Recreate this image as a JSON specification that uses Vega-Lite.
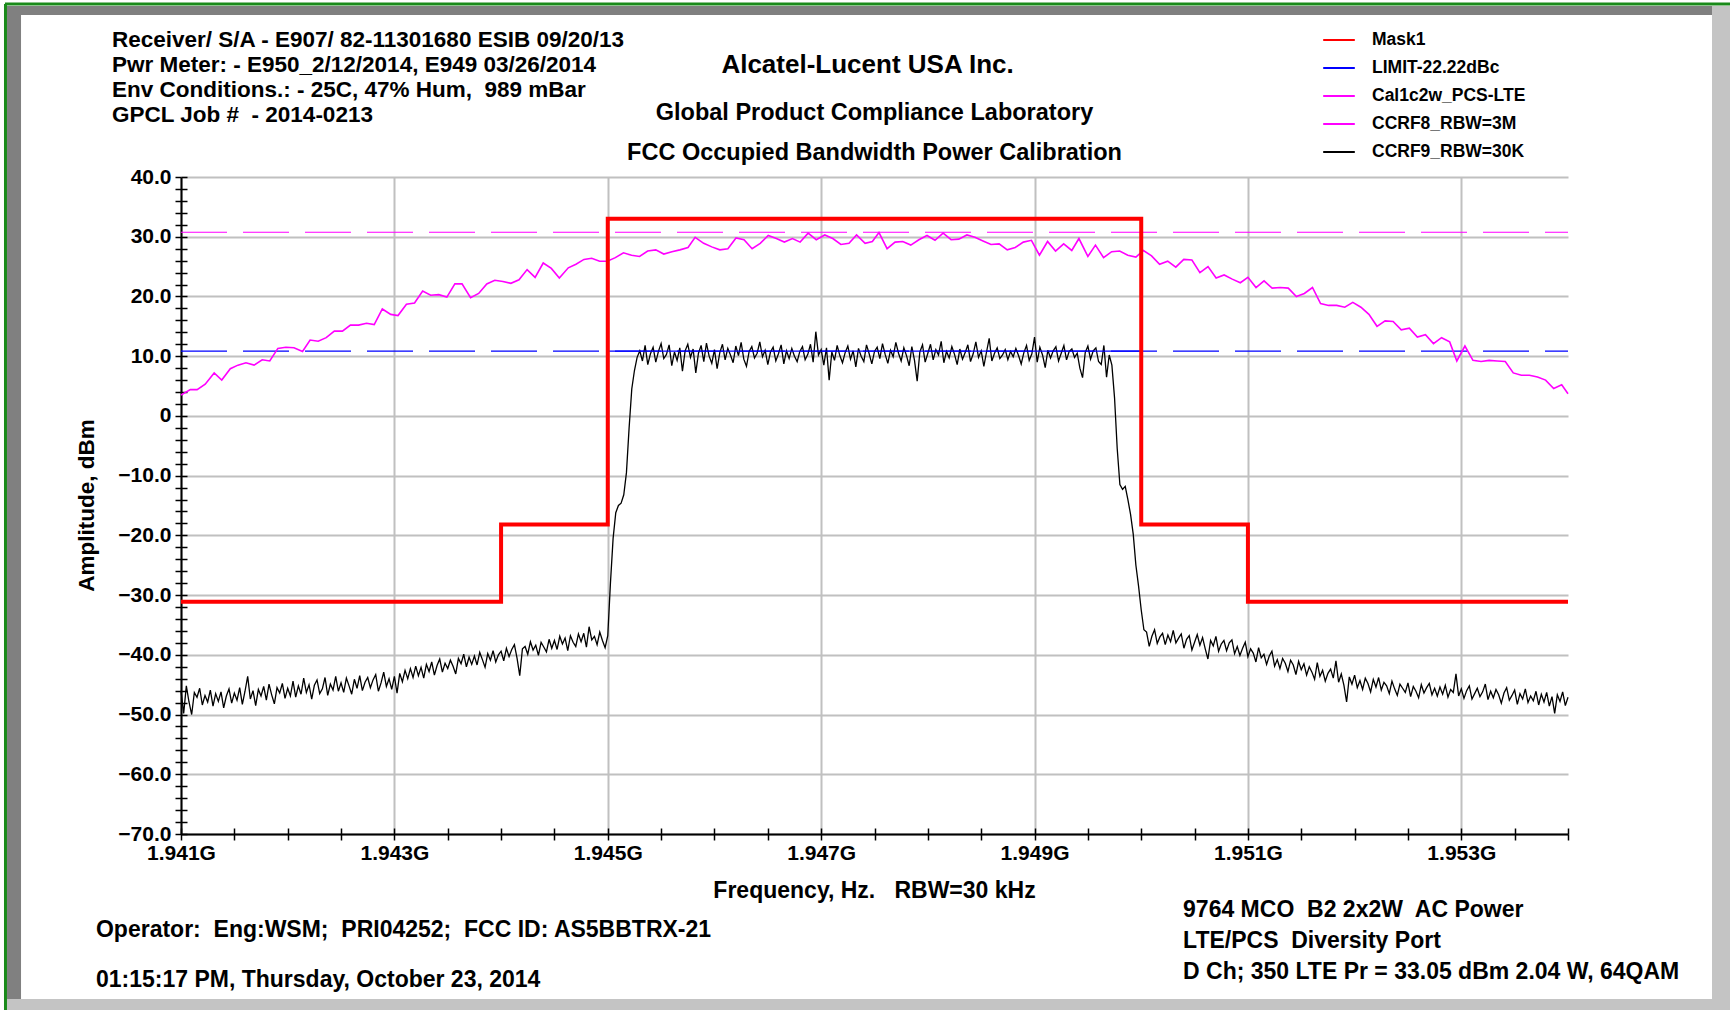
{
"$schema": "https://vega.github.io/schema/vega-lite/v6.json",
"width": 1387, "height": 657,
"autosize": {"type": "none"},
"padding": {"left": 181, "top": 177, "right": 162, "bottom": 176},
"background": "white",
"config": {"view": {"stroke": null}, "font": "Liberation Sans"},
"datasets": {
"mask": [{"f":1941,"v":-31.1},{"f":1944,"v":-18.2},{"f":1945,"v":33.0},{"f":1950,"v":-18.2},{"f":1951,"v":-31.1},{"f":1954,"v":-31.1}],
"lim": [{"f":1945,"v":10.83},{"f":1950,"v":10.83}],
"refb": [{"f":1941,"v":10.83},{"f":1954,"v":10.83}],
"refm": [{"f":1941,"v":30.75},{"f":1954,"v":30.75}],
"m": [{"f":1941.000,"v":3.5},{"f":1941.088,"v":4.4},{"f":1941.151,"v":4.4},{"f":1941.227,"v":5.3},{"f":1941.311,"v":7.2},{"f":1941.382,"v":6.0},{"f":1941.462,"v":7.9},{"f":1941.534,"v":8.5},{"f":1941.609,"v":8.9},{"f":1941.685,"v":8.5},{"f":1941.761,"v":9.4},{"f":1941.832,"v":9.2},{"f":1941.908,"v":11.3},{"f":1941.983,"v":11.5},{"f":1942.059,"v":11.4},{"f":1942.139,"v":10.8},{"f":1942.210,"v":12.7},{"f":1942.286,"v":12.5},{"f":1942.361,"v":13.1},{"f":1942.437,"v":14.2},{"f":1942.513,"v":14.2},{"f":1942.588,"v":15.2},{"f":1942.664,"v":15.2},{"f":1942.739,"v":15.5},{"f":1942.811,"v":15.3},{"f":1942.887,"v":17.9},{"f":1942.966,"v":17.0},{"f":1943.034,"v":16.8},{"f":1943.113,"v":18.7},{"f":1943.189,"v":18.9},{"f":1943.265,"v":20.9},{"f":1943.340,"v":20.2},{"f":1943.416,"v":20.3},{"f":1943.492,"v":19.9},{"f":1943.567,"v":22.1},{"f":1943.634,"v":22.1},{"f":1943.714,"v":19.8},{"f":1943.790,"v":20.5},{"f":1943.866,"v":22.1},{"f":1943.941,"v":22.7},{"f":1944.017,"v":22.5},{"f":1944.092,"v":22.2},{"f":1944.168,"v":22.8},{"f":1944.244,"v":24.5},{"f":1944.319,"v":23.2},{"f":1944.395,"v":25.6},{"f":1944.471,"v":24.7},{"f":1944.546,"v":23.1},{"f":1944.630,"v":24.8},{"f":1944.702,"v":25.4},{"f":1944.777,"v":26.2},{"f":1944.849,"v":26.4},{"f":1944.924,"v":25.9},{"f":1944.996,"v":25.9},{"f":1945.071,"v":26.5},{"f":1945.147,"v":27.3},{"f":1945.223,"v":26.9},{"f":1945.298,"v":26.7},{"f":1945.374,"v":27.6},{"f":1945.450,"v":27.8},{"f":1945.525,"v":27.1},{"f":1945.601,"v":27.5},{"f":1945.676,"v":27.8},{"f":1945.752,"v":28.2},{"f":1945.819,"v":29.9},{"f":1945.899,"v":28.9},{"f":1945.975,"v":28.3},{"f":1946.050,"v":27.8},{"f":1946.126,"v":28.0},{"f":1946.202,"v":29.8},{"f":1946.277,"v":29.5},{"f":1946.353,"v":28.0},{"f":1946.429,"v":28.9},{"f":1946.504,"v":30.2},{"f":1946.580,"v":29.7},{"f":1946.655,"v":29.1},{"f":1946.731,"v":29.7},{"f":1946.803,"v":29.1},{"f":1946.878,"v":30.6},{"f":1946.954,"v":29.5},{"f":1947.034,"v":30.3},{"f":1947.109,"v":29.7},{"f":1947.185,"v":28.7},{"f":1947.261,"v":28.9},{"f":1947.332,"v":30.3},{"f":1947.412,"v":28.9},{"f":1947.480,"v":29.2},{"f":1947.542,"v":30.7},{"f":1947.618,"v":28.0},{"f":1947.693,"v":29.1},{"f":1947.765,"v":29.2},{"f":1947.840,"v":28.6},{"f":1947.916,"v":29.5},{"f":1947.992,"v":30.2},{"f":1948.067,"v":29.4},{"f":1948.143,"v":30.6},{"f":1948.218,"v":29.5},{"f":1948.290,"v":29.6},{"f":1948.366,"v":30.3},{"f":1948.441,"v":29.9},{"f":1948.517,"v":29.3},{"f":1948.592,"v":28.7},{"f":1948.668,"v":28.8},{"f":1948.744,"v":27.8},{"f":1948.819,"v":28.2},{"f":1948.895,"v":29.1},{"f":1948.971,"v":29.4},{"f":1949.046,"v":26.9},{"f":1949.122,"v":29.2},{"f":1949.197,"v":27.6},{"f":1949.273,"v":28.8},{"f":1949.349,"v":27.7},{"f":1949.416,"v":29.7},{"f":1949.500,"v":26.7},{"f":1949.571,"v":28.6},{"f":1949.647,"v":26.5},{"f":1949.723,"v":27.5},{"f":1949.798,"v":27.6},{"f":1949.874,"v":26.9},{"f":1949.950,"v":26.6},{"f":1950.021,"v":27.7},{"f":1950.097,"v":26.8},{"f":1950.172,"v":25.4},{"f":1950.248,"v":25.9},{"f":1950.324,"v":24.9},{"f":1950.399,"v":26.2},{"f":1950.475,"v":26.1},{"f":1950.550,"v":24.0},{"f":1950.626,"v":25.0},{"f":1950.702,"v":23.1},{"f":1950.777,"v":23.6},{"f":1950.853,"v":22.9},{"f":1950.929,"v":22.3},{"f":1951.000,"v":23.2},{"f":1951.076,"v":21.5},{"f":1951.151,"v":22.6},{"f":1951.227,"v":21.4},{"f":1951.303,"v":21.5},{"f":1951.378,"v":21.4},{"f":1951.454,"v":20.0},{"f":1951.529,"v":20.5},{"f":1951.605,"v":21.5},{"f":1951.681,"v":18.8},{"f":1951.756,"v":18.5},{"f":1951.832,"v":18.5},{"f":1951.908,"v":18.2},{"f":1951.983,"v":19.0},{"f":1952.059,"v":18.2},{"f":1952.134,"v":17.0},{"f":1952.210,"v":15.0},{"f":1952.286,"v":15.9},{"f":1952.361,"v":15.8},{"f":1952.437,"v":14.4},{"f":1952.513,"v":14.7},{"f":1952.588,"v":13.2},{"f":1952.664,"v":13.6},{"f":1952.739,"v":12.1},{"f":1952.815,"v":13.1},{"f":1952.891,"v":12.4},{"f":1952.958,"v":9.2},{"f":1953.034,"v":11.7},{"f":1953.109,"v":9.3},{"f":1953.185,"v":9.1},{"f":1953.261,"v":9.3},{"f":1953.336,"v":9.2},{"f":1953.412,"v":9.1},{"f":1953.487,"v":7.2},{"f":1953.563,"v":6.8},{"f":1953.639,"v":6.8},{"f":1953.714,"v":6.5},{"f":1953.790,"v":6.0},{"f":1953.866,"v":4.6},{"f":1953.941,"v":5.2},{"f":1954.000,"v":3.7}],
"k": [{"f":1941.000,"v":-46.0},{"f":1941.025,"v":-49.8},{"f":1941.050,"v":-45.2},{"f":1941.075,"v":-47.9},{"f":1941.100,"v":-50.0},{"f":1941.125,"v":-46.3},{"f":1941.150,"v":-47.1},{"f":1941.175,"v":-45.6},{"f":1941.200,"v":-48.4},{"f":1941.225,"v":-46.8},
{"f":1941.250,"v":-47.9},{"f":1941.275,"v":-45.9},{"f":1941.300,"v":-48.6},{"f":1941.325,"v":-46.5},{"f":1941.350,"v":-47.8},{"f":1941.375,"v":-46.2},{"f":1941.400,"v":-48.9},{"f":1941.425,"v":-46.9},{"f":1941.450,"v":-45.7},{"f":1941.475,"v":-48.1},
{"f":1941.500,"v":-46.4},{"f":1941.525,"v":-47.6},{"f":1941.550,"v":-45.5},{"f":1941.575,"v":-48.3},{"f":1941.600,"v":-46.1},{"f":1941.625,"v":-43.6},{"f":1941.650,"v":-47.4},{"f":1941.675,"v":-46.0},{"f":1941.700,"v":-48.5},{"f":1941.725,"v":-45.8},
{"f":1941.750,"v":-46.9},{"f":1941.775,"v":-45.3},{"f":1941.800,"v":-47.6},{"f":1941.825,"v":-44.9},{"f":1941.850,"v":-46.7},{"f":1941.875,"v":-48.2},{"f":1941.900,"v":-45.5},{"f":1941.925,"v":-46.4},{"f":1941.950,"v":-44.8},{"f":1941.975,"v":-47.3},
{"f":1942.000,"v":-45.6},{"f":1942.025,"v":-46.9},{"f":1942.050,"v":-44.4},{"f":1942.075,"v":-47.1},{"f":1942.100,"v":-45.2},{"f":1942.125,"v":-46.6},{"f":1942.150,"v":-43.9},{"f":1942.175,"v":-46.3},{"f":1942.200,"v":-45.0},{"f":1942.225,"v":-47.4},
{"f":1942.250,"v":-45.1},{"f":1942.275,"v":-44.2},{"f":1942.300,"v":-46.5},{"f":1942.325,"v":-45.7},{"f":1942.350,"v":-43.8},{"f":1942.375,"v":-46.8},{"f":1942.400,"v":-44.9},{"f":1942.425,"v":-45.9},{"f":1942.450,"v":-43.6},{"f":1942.475,"v":-46.1},
{"f":1942.500,"v":-44.7},{"f":1942.525,"v":-46.3},{"f":1942.550,"v":-43.9},{"f":1942.575,"v":-45.2},{"f":1942.600,"v":-46.6},{"f":1942.625,"v":-44.1},{"f":1942.650,"v":-45.6},{"f":1942.675,"v":-43.5},{"f":1942.700,"v":-46.0},{"f":1942.725,"v":-44.6},
{"f":1942.750,"v":-43.8},{"f":1942.775,"v":-45.5},{"f":1942.800,"v":-44.2},{"f":1942.825,"v":-43.3},{"f":1942.850,"v":-46.1},{"f":1942.875,"v":-44.7},{"f":1942.900,"v":-42.9},{"f":1942.925,"v":-45.3},{"f":1942.950,"v":-44.0},{"f":1942.975,"v":-45.8},
{"f":1943.000,"v":-43.6},{"f":1943.025,"v":-46.4},{"f":1943.050,"v":-43.1},{"f":1943.075,"v":-44.5},{"f":1943.100,"v":-42.6},{"f":1943.125,"v":-44.0},{"f":1943.150,"v":-42.3},{"f":1943.175,"v":-43.8},{"f":1943.200,"v":-41.9},{"f":1943.225,"v":-43.5},
{"f":1943.250,"v":-42.1},{"f":1943.275,"v":-43.9},{"f":1943.300,"v":-41.6},{"f":1943.325,"v":-42.8},{"f":1943.350,"v":-41.2},{"f":1943.375,"v":-43.4},{"f":1943.400,"v":-41.8},{"f":1943.425,"v":-40.7},{"f":1943.450,"v":-42.9},{"f":1943.475,"v":-41.4},
{"f":1943.500,"v":-42.3},{"f":1943.525,"v":-40.9},{"f":1943.550,"v":-41.9},{"f":1943.575,"v":-43.2},{"f":1943.600,"v":-40.6},{"f":1943.625,"v":-41.5},{"f":1943.650,"v":-39.9},{"f":1943.675,"v":-42.0},{"f":1943.700,"v":-40.4},{"f":1943.725,"v":-41.6},
{"f":1943.750,"v":-40.2},{"f":1943.775,"v":-41.7},{"f":1943.800,"v":-39.6},{"f":1943.825,"v":-40.8},{"f":1943.850,"v":-42.1},{"f":1943.875,"v":-39.8},{"f":1943.900,"v":-40.9},{"f":1943.925,"v":-39.3},{"f":1943.950,"v":-41.2},{"f":1943.975,"v":-40.0},
{"f":1944.000,"v":-39.4},{"f":1944.025,"v":-41.0},{"f":1944.050,"v":-38.9},{"f":1944.075,"v":-40.3},{"f":1944.100,"v":-39.1},{"f":1944.125,"v":-38.3},{"f":1944.150,"v":-40.6},{"f":1944.175,"v":-43.5},{"f":1944.200,"v":-39.0},{"f":1944.225,"v":-38.6},
{"f":1944.250,"v":-39.9},{"f":1944.275,"v":-37.8},{"f":1944.300,"v":-39.2},{"f":1944.325,"v":-38.4},{"f":1944.350,"v":-40.1},{"f":1944.375,"v":-37.9},{"f":1944.400,"v":-38.7},{"f":1944.425,"v":-39.5},{"f":1944.450,"v":-37.4},{"f":1944.475,"v":-38.9},
{"f":1944.500,"v":-37.6},{"f":1944.525,"v":-39.1},{"f":1944.550,"v":-36.9},{"f":1944.575,"v":-38.2},{"f":1944.600,"v":-37.2},{"f":1944.625,"v":-39.3},{"f":1944.650,"v":-36.8},{"f":1944.675,"v":-37.9},{"f":1944.700,"v":-38.6},{"f":1944.725,"v":-36.5},
{"f":1944.750,"v":-37.8},{"f":1944.775,"v":-36.4},{"f":1944.800,"v":-38.7},{"f":1944.825,"v":-35.3},{"f":1944.850,"v":-37.5},{"f":1944.875,"v":-36.9},{"f":1944.900,"v":-38.3},{"f":1944.925,"v":-36.2},{"f":1944.950,"v":-37.6},{"f":1944.975,"v":-38.8},
{"f":1945.000,"v":-36.8},{"f":1945.025,"v":-28.0},{"f":1945.050,"v":-20.5},{"f":1945.075,"v":-16.2},{"f":1945.100,"v":-15.0},{"f":1945.125,"v":-14.6},{"f":1945.150,"v":-13.2},{"f":1945.175,"v":-9.5},{"f":1945.200,"v":-2.0},{"f":1945.225,"v":4.5},{"f":1945.250,"v":7.6},{"f":1945.275,"v":9.8},
{"f":1945.300,"v":10.9},{"f":1945.325,"v":9.2},{"f":1945.350,"v":11.8},{"f":1945.375,"v":8.6},{"f":1945.400,"v":10.4},{"f":1945.425,"v":11.5},{"f":1945.450,"v":9.0},{"f":1945.475,"v":10.8},{"f":1945.500,"v":12.1},{"f":1945.525,"v":9.6},
{"f":1945.550,"v":10.3},{"f":1945.575,"v":11.9},{"f":1945.600,"v":8.4},{"f":1945.625,"v":10.7},{"f":1945.650,"v":9.3},{"f":1945.675,"v":11.4},{"f":1945.700,"v":7.5},{"f":1945.725,"v":10.9},{"f":1945.750,"v":12.0},{"f":1945.775,"v":9.8},
{"f":1945.800,"v":11.2},{"f":1945.825,"v":7.2},{"f":1945.850,"v":10.5},{"f":1945.875,"v":11.8},{"f":1945.900,"v":9.1},{"f":1945.925,"v":12.2},{"f":1945.950,"v":10.0},{"f":1945.975,"v":8.8},{"f":1946.000,"v":11.1},{"f":1946.025,"v":7.9},
{"f":1946.050,"v":10.6},{"f":1946.075,"v":12.0},{"f":1946.100,"v":9.4},{"f":1946.125,"v":11.3},{"f":1946.150,"v":10.2},{"f":1946.175,"v":8.9},{"f":1946.200,"v":11.7},{"f":1946.225,"v":10.1},{"f":1946.250,"v":12.3},{"f":1946.275,"v":9.5},
{"f":1946.300,"v":8.3},{"f":1946.325,"v":10.8},{"f":1946.350,"v":11.6},{"f":1946.375,"v":9.7},{"f":1946.400,"v":10.5},{"f":1946.425,"v":12.4},{"f":1946.450,"v":9.9},{"f":1946.475,"v":11.0},{"f":1946.500,"v":8.6},{"f":1946.525,"v":10.7},
{"f":1946.550,"v":11.5},{"f":1946.575,"v":9.2},{"f":1946.600,"v":10.4},{"f":1946.625,"v":11.9},{"f":1946.650,"v":8.7},{"f":1946.675,"v":10.9},{"f":1946.700,"v":9.6},{"f":1946.725,"v":11.3},{"f":1946.750,"v":10.0},{"f":1946.775,"v":9.1},
{"f":1946.800,"v":10.8},{"f":1946.825,"v":11.6},{"f":1946.850,"v":9.4},{"f":1946.875,"v":10.3},{"f":1946.900,"v":12.0},{"f":1946.925,"v":9.0},{"f":1946.950,"v":14.1},{"f":1946.975,"v":10.2},{"f":1947.000,"v":11.1},{"f":1947.025,"v":8.5},
{"f":1947.050,"v":11.4},{"f":1947.075,"v":6.0},{"f":1947.100,"v":10.7},{"f":1947.125,"v":9.3},{"f":1947.150,"v":11.8},{"f":1947.175,"v":10.1},{"f":1947.200,"v":8.9},{"f":1947.225,"v":10.6},{"f":1947.250,"v":11.7},{"f":1947.275,"v":9.5},
{"f":1947.300,"v":10.9},{"f":1947.325,"v":8.2},{"f":1947.350,"v":11.3},{"f":1947.375,"v":10.0},{"f":1947.400,"v":9.1},{"f":1947.425,"v":11.9},{"f":1947.450,"v":10.4},{"f":1947.475,"v":8.7},{"f":1947.500,"v":10.8},{"f":1947.525,"v":11.5},
{"f":1947.550,"v":9.6},{"f":1947.575,"v":12.1},{"f":1947.600,"v":10.3},{"f":1947.625,"v":8.8},{"f":1947.650,"v":11.0},{"f":1947.675,"v":9.9},{"f":1947.700,"v":12.3},{"f":1947.725,"v":10.5},{"f":1947.750,"v":9.2},{"f":1947.775,"v":11.4},
{"f":1947.800,"v":10.1},{"f":1947.825,"v":8.4},{"f":1947.850,"v":11.6},{"f":1947.875,"v":9.3},{"f":1947.900,"v":5.8},{"f":1947.925,"v":10.7},{"f":1947.950,"v":11.9},{"f":1947.975,"v":9.0},{"f":1948.000,"v":10.5},{"f":1948.025,"v":12.0},
{"f":1948.050,"v":9.4},{"f":1948.075,"v":11.1},{"f":1948.100,"v":10.2},{"f":1948.125,"v":12.5},{"f":1948.150,"v":8.9},{"f":1948.175,"v":10.8},{"f":1948.200,"v":9.7},{"f":1948.225,"v":11.6},{"f":1948.250,"v":10.3},{"f":1948.275,"v":8.6},
{"f":1948.300,"v":11.2},{"f":1948.325,"v":9.5},{"f":1948.350,"v":10.6},{"f":1948.375,"v":11.9},{"f":1948.400,"v":9.1},{"f":1948.425,"v":10.4},{"f":1948.450,"v":12.4},{"f":1948.475,"v":9.8},{"f":1948.500,"v":10.9},{"f":1948.525,"v":8.3},
{"f":1948.550,"v":10.7},{"f":1948.575,"v":13.0},{"f":1948.600,"v":9.2},{"f":1948.625,"v":10.5},{"f":1948.650,"v":11.4},{"f":1948.675,"v":9.6},{"f":1948.700,"v":10.2},{"f":1948.725,"v":11.1},{"f":1948.750,"v":9.4},{"f":1948.775,"v":10.8},
{"f":1948.800,"v":9.9},{"f":1948.825,"v":11.3},{"f":1948.850,"v":10.1},{"f":1948.875,"v":8.7},{"f":1948.900,"v":10.6},{"f":1948.925,"v":11.8},{"f":1948.950,"v":9.3},{"f":1948.975,"v":10.4},{"f":1949.000,"v":13.2},{"f":1949.025,"v":9.0},
{"f":1949.050,"v":11.5},{"f":1949.075,"v":10.2},{"f":1949.100,"v":8.1},{"f":1949.125,"v":11.0},{"f":1949.150,"v":9.7},{"f":1949.175,"v":10.9},{"f":1949.200,"v":11.6},{"f":1949.225,"v":9.2},{"f":1949.250,"v":10.5},{"f":1949.275,"v":11.8},
{"f":1949.300,"v":9.4},{"f":1949.325,"v":10.8},{"f":1949.350,"v":11.2},{"f":1949.375,"v":9.8},{"f":1949.400,"v":10.5},{"f":1949.425,"v":8.0},{"f":1949.450,"v":6.4},{"f":1949.475,"v":10.6},{"f":1949.500,"v":11.7},{"f":1949.525,"v":9.5},
{"f":1949.550,"v":10.9},{"f":1949.575,"v":11.4},{"f":1949.600,"v":9.1},{"f":1949.625,"v":8.6},{"f":1949.650,"v":11.8},{"f":1949.675,"v":6.5},
{"f":1949.700,"v":10.2},{"f":1949.725,"v":8.5},{"f":1949.750,"v":3.0},{"f":1949.775,"v":-5.5},{"f":1949.800,"v":-11.5},{"f":1949.825,"v":-12.3},{"f":1949.850,"v":-11.8},{"f":1949.875,"v":-14.0},{"f":1949.900,"v":-16.5},{"f":1949.925,"v":-19.8},{"f":1949.950,"v":-25.0},{"f":1949.975,"v":-28.5},{"f":1950.000,"v":-32.5},{"f":1950.025,"v":-35.8},
{"f":1950.050,"v":-36.2},{"f":1950.075,"v":-38.6},{"f":1950.100,"v":-36.9},{"f":1950.125,"v":-35.8},{"f":1950.150,"v":-38.1},{"f":1950.175,"v":-37.0},{"f":1950.200,"v":-36.4},{"f":1950.225,"v":-38.3},{"f":1950.250,"v":-36.7},{"f":1950.275,"v":-37.8},
{"f":1950.300,"v":-35.9},{"f":1950.325,"v":-38.0},{"f":1950.350,"v":-37.2},{"f":1950.375,"v":-36.5},{"f":1950.400,"v":-38.9},{"f":1950.425,"v":-37.4},{"f":1950.450,"v":-36.8},{"f":1950.475,"v":-39.2},{"f":1950.500,"v":-37.9},{"f":1950.525,"v":-36.6},
{"f":1950.550,"v":-38.4},{"f":1950.575,"v":-37.1},{"f":1950.600,"v":-39.0},{"f":1950.625,"v":-40.7},{"f":1950.650,"v":-37.6},{"f":1950.675,"v":-38.5},{"f":1950.700,"v":-36.9},{"f":1950.725,"v":-39.4},{"f":1950.750,"v":-38.2},{"f":1950.775,"v":-37.6},
{"f":1950.800,"v":-39.3},{"f":1950.825,"v":-38.0},{"f":1950.850,"v":-37.5},{"f":1950.875,"v":-39.8},{"f":1950.900,"v":-38.6},{"f":1950.925,"v":-40.1},{"f":1950.950,"v":-38.9},{"f":1950.975,"v":-37.9},{"f":1951.000,"v":-40.3},{"f":1951.025,"v":-39.0},
{"f":1951.050,"v":-39.7},{"f":1951.075,"v":-41.2},{"f":1951.100,"v":-38.8},{"f":1951.125,"v":-40.5},{"f":1951.150,"v":-39.9},{"f":1951.175,"v":-41.6},{"f":1951.200,"v":-40.2},{"f":1951.225,"v":-39.4},{"f":1951.250,"v":-41.9},{"f":1951.275,"v":-40.8},
{"f":1951.300,"v":-42.3},{"f":1951.325,"v":-40.6},{"f":1951.350,"v":-41.4},{"f":1951.375,"v":-42.8},{"f":1951.400,"v":-40.9},{"f":1951.425,"v":-41.7},{"f":1951.450,"v":-43.3},{"f":1951.475,"v":-41.1},{"f":1951.500,"v":-42.5},{"f":1951.525,"v":-41.5},
{"f":1951.550,"v":-43.4},{"f":1951.575,"v":-42.0},{"f":1951.600,"v":-42.9},{"f":1951.625,"v":-44.1},{"f":1951.650,"v":-41.3},{"f":1951.675,"v":-43.6},{"f":1951.700,"v":-42.6},{"f":1951.725,"v":-44.4},{"f":1951.750,"v":-43.1},{"f":1951.775,"v":-42.4},
{"f":1951.800,"v":-43.9},{"f":1951.825,"v":-41.0},{"f":1951.850,"v":-44.6},{"f":1951.875,"v":-43.2},{"f":1951.900,"v":-45.1},{"f":1951.925,"v":-47.9},{"f":1951.950,"v":-43.7},{"f":1951.975,"v":-44.9},{"f":1952.000,"v":-43.4},{"f":1952.025,"v":-45.5},
{"f":1952.050,"v":-44.3},{"f":1952.075,"v":-45.8},{"f":1952.100,"v":-43.9},{"f":1952.125,"v":-44.8},{"f":1952.150,"v":-46.2},{"f":1952.175,"v":-44.1},{"f":1952.200,"v":-45.4},{"f":1952.225,"v":-43.8},{"f":1952.250,"v":-45.9},{"f":1952.275,"v":-44.6},
{"f":1952.300,"v":-45.2},{"f":1952.325,"v":-46.5},{"f":1952.350,"v":-44.4},{"f":1952.375,"v":-45.7},{"f":1952.400,"v":-46.8},{"f":1952.425,"v":-44.9},{"f":1952.450,"v":-45.6},{"f":1952.475,"v":-46.3},{"f":1952.500,"v":-44.7},{"f":1952.525,"v":-47.0},
{"f":1952.550,"v":-45.3},{"f":1952.575,"v":-46.1},{"f":1952.600,"v":-47.2},{"f":1952.625,"v":-45.0},{"f":1952.650,"v":-46.4},{"f":1952.675,"v":-45.5},{"f":1952.700,"v":-44.8},{"f":1952.725,"v":-46.7},{"f":1952.750,"v":-45.6},{"f":1952.775,"v":-46.9},
{"f":1952.800,"v":-45.4},{"f":1952.825,"v":-46.6},{"f":1952.850,"v":-45.1},{"f":1952.875,"v":-47.1},{"f":1952.900,"v":-45.8},{"f":1952.925,"v":-46.3},{"f":1952.950,"v":-43.2},{"f":1952.975,"v":-46.9},{"f":1953.000,"v":-45.7},{"f":1953.025,"v":-47.3},
{"f":1953.050,"v":-46.0},{"f":1953.075,"v":-45.2},{"f":1953.100,"v":-47.4},{"f":1953.125,"v":-46.5},{"f":1953.150,"v":-45.6},{"f":1953.175,"v":-47.0},{"f":1953.200,"v":-46.2},{"f":1953.225,"v":-44.9},{"f":1953.250,"v":-47.5},{"f":1953.275,"v":-46.1},
{"f":1953.300,"v":-47.2},{"f":1953.325,"v":-45.8},{"f":1953.350,"v":-46.7},{"f":1953.375,"v":-48.1},{"f":1953.400,"v":-46.4},{"f":1953.425,"v":-45.5},{"f":1953.450,"v":-47.6},{"f":1953.475,"v":-46.8},{"f":1953.500,"v":-45.9},{"f":1953.525,"v":-48.3},
{"f":1953.550,"v":-46.5},{"f":1953.575,"v":-47.4},{"f":1953.600,"v":-45.7},{"f":1953.625,"v":-48.0},{"f":1953.650,"v":-46.9},{"f":1953.675,"v":-47.7},{"f":1953.700,"v":-46.1},{"f":1953.725,"v":-48.4},{"f":1953.750,"v":-46.6},{"f":1953.775,"v":-47.9},
{"f":1953.800,"v":-46.3},{"f":1953.825,"v":-48.6},{"f":1953.850,"v":-47.0},{"f":1953.875,"v":-49.8},{"f":1953.900,"v":-46.7},{"f":1953.925,"v":-47.8},{"f":1953.950,"v":-46.2},{"f":1953.975,"v":-48.5},{"f":1954.000,"v":-47.1}]
},
"resolve": {"axis": {"x": "independent", "y": "independent"}},
"layer": [
{"data": {"values": [{}]}, "mark": {"type": "rule", "color": "#808080", "strokeWidth": 9}, "encoding": {"x": {"datum": 1939.369, "type": "quantitative", "scale": {"domain": [1941, 1954], "nice": false, "zero": false}, "axis": null}, "x2": {"datum": 1955.350}, "y": {"datum": 67.877, "type": "quantitative", "scale": {"domain": [-70, 40], "nice": false, "zero": false}, "axis": null}}},
{"data": {"values": [{}]}, "mark": {"type": "rule", "color": "#808080", "strokeWidth": 14}, "encoding": {"x": {"datum": 1939.435, "type": "quantitative", "axis": null}, "y": {"datum": 68.630, "type": "quantitative", "axis": null}, "y2": {"datum": -99.468}}},
{"data": {"values": [{}]}, "mark": {"type": "rule", "color": "#c4c4c4", "strokeWidth": 18}, "encoding": {"x": {"datum": 1955.434, "type": "quantitative", "axis": null}, "y": {"datum": 68.630, "type": "quantitative", "axis": null}, "y2": {"datum": -99.468}}},
{"data": {"values": [{}]}, "mark": {"type": "rule", "color": "#c4c4c4", "strokeWidth": 11}, "encoding": {"x": {"datum": 1939.369, "type": "quantitative", "axis": null}, "x2": {"datum": 1955.519}, "y": {"datum": -98.547, "type": "quantitative", "axis": null}}},
{"data": {"values": [{}]}, "mark": {"type": "rule", "color": "#1a8a1a", "strokeWidth": 3}, "encoding": {"x": {"datum": 1939.350, "type": "quantitative", "axis": null}, "x2": {"datum": 1955.519}, "y": {"datum": 68.965, "type": "quantitative", "axis": null}}},
{"data": {"values": [{}]}, "mark": {"type": "rule", "color": "#1a8a1a", "strokeWidth": 3}, "encoding": {"x": {"datum": 1939.355, "type": "quantitative", "axis": null}, "y": {"datum": 68.965, "type": "quantitative", "axis": null}, "y2": {"datum": -99.468}}},
{"data": {"name": "refm"}, "mark": {"type": "line", "color": "#ff00ff", "strokeWidth": 1.2, "strokeDash": [46, 16]}, "encoding": {"x": {"field": "f", "type": "quantitative", "axis": null}, "y": {"field": "v", "type": "quantitative", "axis": null}}},
{"data": {"name": "refb"}, "mark": {"type": "line", "color": "#0000ff", "strokeWidth": 1.2, "strokeDash": [46, 16]}, "encoding": {"x": {"field": "f", "type": "quantitative", "axis": null}, "y": {"field": "v", "type": "quantitative", "axis": null}}},
{"data": {"name": "m"}, "mark": {"type": "line", "strokeWidth": 1.6}, "encoding": {
  "x": {"field": "f", "type": "quantitative", "axis": {"orient": "bottom", "values": [1941,1941.5,1942,1942.5,1943,1943.5,1944,1944.5,1945,1945.5,1946,1946.5,1947,1947.5,1948,1948.5,1949,1949.5,1950,1950.5,1951,1951.5,1952,1952.5,1953,1953.5,1954], "labels": false, "domain": false, "grid": false, "ticks": true, "tickSize": -6, "tickColor": "black", "tickWidth": 1.5, "title": null}},
  "y": {"field": "v", "type": "quantitative", "axis": {"orient": "left", "values": [-70,-68,-66,-64,-62,-60,-58,-56,-54,-52,-50,-48,-46,-44,-42,-40,-38,-36,-34,-32,-30,-28,-26,-24,-22,-20,-18,-16,-14,-12,-10,-8,-6,-4,-2,0,2,4,6,8,10,12,14,16,18,20,22,24,26,28,30,32,34,36,38,40], "labels": false, "domain": false, "grid": false, "ticks": true, "tickSize": -6, "tickColor": "black", "tickWidth": 1.5, "title": null}},
  "color": {"datum": "CCRF8_RBW=3M"}}},
{"data": {"name": "k"}, "mark": {"type": "line", "strokeWidth": 1.3}, "encoding": {
  "x": {"field": "f", "type": "quantitative", "scale": {"domain": [1941, 1954], "nice": false, "zero": false}, "axis": {"orient": "bottom", "values": [1941,1941.5,1942,1942.5,1943,1943.5,1944,1944.5,1945,1945.5,1946,1946.5,1947,1947.5,1948,1948.5,1949,1949.5,1950,1950.5,1951,1951.5,1952,1952.5,1953,1953.5,1954], "labelExpr": "(datum.value - 1941) % 2 == 0 ? format(datum.value / 1000, '.3f') + 'G' : ''", "labelFont": "Liberation Sans", "labelFontSize": 21, "labelFontWeight": "bold", "labelColor": "black", "labelPadding": 2, "labelFlush": false, "labelOverlap": false, "tickSize": 6, "tickColor": "black", "tickWidth": 1.5, "domainColor": "black", "domainWidth": 2, "grid": true, "gridColor": "#c0c0c0", "gridWidth": 2, "gridOpacity": {"condition": {"test": "(datum.value - 1941) % 2 == 0", "value": 1}, "value": 0}, "title": "Frequency, Hz.\u00a0\u00a0 RBW=30 kHz", "titleFont": "Liberation Sans", "titleFontSize": 23, "titleFontWeight": "bold", "titleColor": "black", "titleX": 693, "titleY": 56, "titleBaseline": "middle", "titleAlign": "center"}},
  "y": {"field": "v", "type": "quantitative", "scale": {"domain": [-70, 40], "nice": false, "zero": false}, "axis": {"orient": "left", "values": [-70,-68,-66,-64,-62,-60,-58,-56,-54,-52,-50,-48,-46,-44,-42,-40,-38,-36,-34,-32,-30,-28,-26,-24,-22,-20,-18,-16,-14,-12,-10,-8,-6,-4,-2,0,2,4,6,8,10,12,14,16,18,20,22,24,26,28,30,32,34,36,38,40], "labelExpr": "datum.value % 10 == 0 ? (datum.value == 0 ? '0' : format(datum.value, '.1f')) : ''", "labelFont": "Liberation Sans", "labelFontSize": 21, "labelFontWeight": "bold", "labelColor": "black", "labelPadding": 4, "labelFlush": false, "labelOverlap": false, "tickSize": 6, "tickColor": "black", "tickWidth": 1.5, "domainColor": "black", "domainWidth": 2, "grid": true, "gridColor": "#c0c0c0", "gridWidth": 2, "gridOpacity": {"condition": {"test": "datum.value % 10 == 0", "value": 1}, "value": 0}, "title": "Amplitude, dBm", "titleFont": "Liberation Sans", "titleFontSize": 22.5, "titleFontWeight": "bold", "titleColor": "black", "titleX": -95, "titleY": 328, "titleAngle": -90, "titleBaseline": "middle", "titleAlign": "center"}},
  "color": {"datum": "CCRF9_RBW=30K", "scale": {"domain": ["Mask1", "LIMIT-22.22dBc", "Cal1c2w_PCS-LTE", "CCRF8_RBW=3M", "CCRF9_RBW=30K"], "range": ["#ff0000", "#0000ff", "#ff00ff", "#ff00ff", "#000000"]}, "legend": {"orient": "none", "legendX": 1141, "legendY": -154, "title": null, "symbolType": "stroke", "symbolSize": 1000, "symbolStrokeWidth": 2, "labelFont": "Liberation Sans", "labelFontSize": 17.5, "labelFontWeight": "bold", "labelColor": "black", "labelOffset": 16, "rowPadding": 2, "padding": 0}}}},
{"data": {"name": "lim"}, "mark": {"type": "line", "strokeWidth": 1.2}, "encoding": {"x": {"field": "f", "type": "quantitative", "axis": null}, "y": {"field": "v", "type": "quantitative", "axis": null}, "color": {"datum": "LIMIT-22.22dBc"}}},
{"data": {"name": "mask"}, "mark": {"type": "line", "strokeWidth": 4, "interpolate": "step-after"}, "encoding": {"x": {"field": "f", "type": "quantitative", "axis": null}, "y": {"field": "v", "type": "quantitative", "axis": null}, "color": {"datum": "Mask1"}}},
{"data": {"values": [{}]}, "mark": {"type": "text", "align": "left", "baseline": "alphabetic", "font": "Liberation Sans", "fontSize": 22.5, "fontWeight": "bold", "color": "black", "lineHeight": 25}, "encoding": {"x": {"datum": 1940.353, "type": "quantitative", "axis": null}, "y": {"datum": 61.766, "type": "quantitative", "axis": null}, "text": {"value": ["Receiver/ S/A - E907/ 82-11301680 ESIB 09/20/13", "Pwr Meter: - E950_2/12/2014, E949 03/26/2014", "Env Conditions.: - 25C, 47% Hum,\u00a0 989 mBar", "GPCL Job #\u00a0 - 2014-0213"]}}},
{"data": {"values": [{}]}, "mark": {"type": "text", "align": "center", "baseline": "alphabetic", "font": "Liberation Sans", "fontSize": 26, "fontWeight": "bold", "color": "black"}, "encoding": {"x": {"datum": 1947.435, "type": "quantitative", "axis": null}, "y": {"datum": 57.413, "type": "quantitative", "axis": null}, "text": {"value": "Alcatel-Lucent USA Inc."}}},
{"data": {"values": [{}]}, "mark": {"type": "text", "align": "center", "baseline": "alphabetic", "font": "Liberation Sans", "fontSize": 23.5, "fontWeight": "bold", "color": "black", "lineHeight": 39.5}, "encoding": {"x": {"datum": 1947.5, "type": "quantitative", "axis": null}, "y": {"datum": 49.543, "type": "quantitative", "axis": null}, "text": {"value": ["Global Product Compliance Laboratory", "FCC Occupied Bandwidth Power Calibration"]}}},
{"data": {"values": [{}]}, "mark": {"type": "text", "align": "left", "baseline": "alphabetic", "font": "Liberation Sans", "fontSize": 23, "fontWeight": "bold", "color": "black", "lineHeight": 50}, "encoding": {"x": {"datum": 1940.203, "type": "quantitative", "axis": null}, "y": {"datum": -87.246, "type": "quantitative", "axis": null}, "text": {"value": ["Operator:\u00a0 Eng:WSM;\u00a0 PRI04252;\u00a0 FCC ID: AS5BBTRX-21", "01:15:17 PM, Thursday, October 23, 2014"]}}},
{"data": {"values": [{}]}, "mark": {"type": "text", "align": "left", "baseline": "alphabetic", "font": "Liberation Sans", "fontSize": 23, "fontWeight": "bold", "color": "black", "lineHeight": 31}, "encoding": {"x": {"datum": 1950.392, "type": "quantitative", "axis": null}, "y": {"datum": -83.897, "type": "quantitative", "axis": null}, "text": {"value": ["9764 MCO\u00a0 B2 2x2W\u00a0 AC Power", "LTE/PCS\u00a0 Diversity Port", "D Ch; 350 LTE Pr = 33.05 dBm 2.04 W, 64QAM"]}}}
]
}
